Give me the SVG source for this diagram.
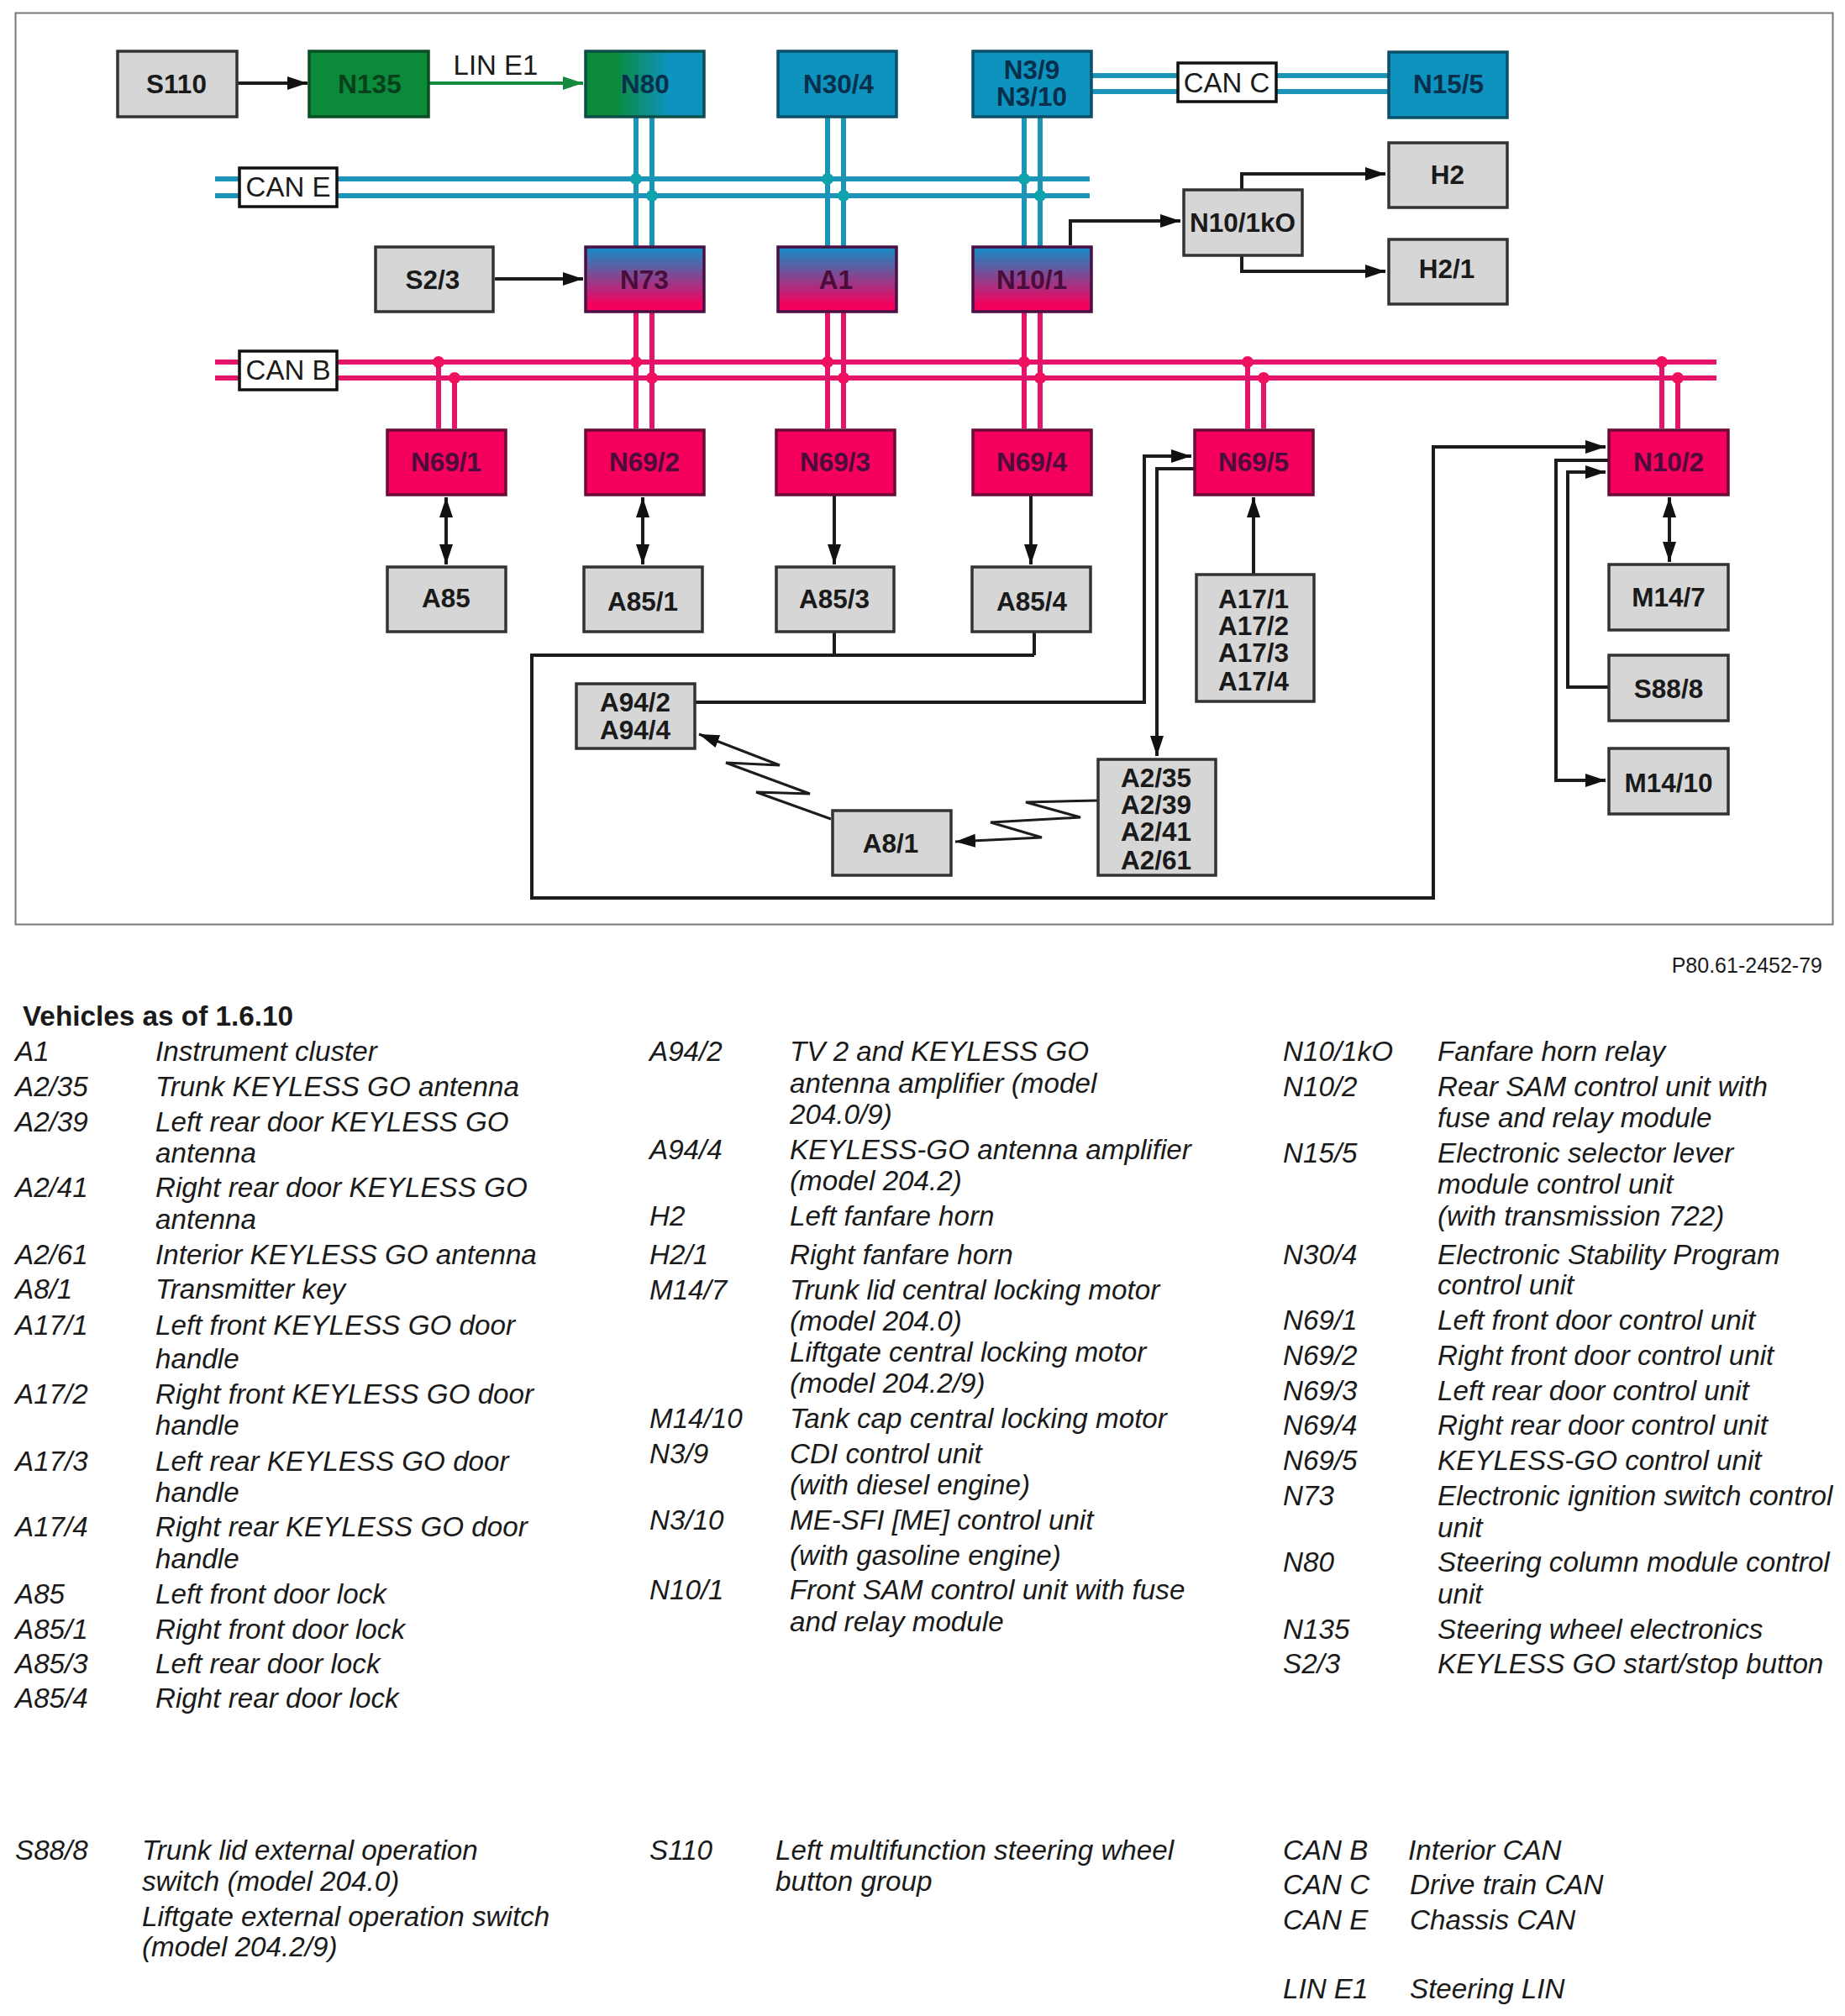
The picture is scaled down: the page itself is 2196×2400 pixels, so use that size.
<svg xmlns="http://www.w3.org/2000/svg" width="2196" height="2400" viewBox="0 0 2196 2400">
<style>
text{font-family:"Liberation Sans",Arial,sans-serif}
.n{stroke-width:3.500}
.g{fill:#d6d6d6;stroke:#333}
.w{fill:#fff;stroke:#111}
.gr{fill:#0b8b39;stroke:#0b4d22}
.bl{fill:#0e93bf;stroke:#0c4f6a}
.mg{fill:#f5005c;stroke:#6a0a36}
.l{font-weight:bold;font-size:31.500px;text-anchor:middle;fill:#1a1a1a}
.lg{fill:#07401b}.lb{fill:#072f4c}.lm{fill:#4a0c3a}
.c{font-size:33px;text-anchor:middle;fill:#1a1a1a}
.t{font-size:33.200px;font-style:italic;fill:#1a1a1a}
.ln{fill:none;stroke:#1c1c1c;stroke-width:4}
.ar{marker-end:url(#a)}
.dbl{marker-end:url(#a);marker-start:url(#a)}
.be{fill:none;stroke:#1b94b8;stroke-width:6}
.bm{fill:none;stroke:#e3146a;stroke-width:6}
.de{fill:#0ea2ab}.dm{fill:#f0105f}
</style>
<defs>
<marker id="a" markerUnits="userSpaceOnUse" markerWidth="26" markerHeight="18" refX="24" refY="9" orient="auto-start-reverse"><path d="M0 1L24 9L0 17Z" fill="#111"/></marker>
<marker id="ag" markerUnits="userSpaceOnUse" markerWidth="26" markerHeight="18" refX="24" refY="9" orient="auto"><path d="M0 1L24 9L0 17Z" fill="#15893f"/></marker>
<linearGradient id="gb" x1="0" x2="1" y1="0" y2="0"><stop offset="0.25" stop-color="#0b8b39"/><stop offset="0.7" stop-color="#0e93bf"/></linearGradient>
<linearGradient id="bm" x1="0" x2="0" y1="0" y2="1"><stop offset="0" stop-color="#0f8fc8"/><stop offset="0.9" stop-color="#f5005c"/></linearGradient>
</defs>
<rect x="18.500" y="15.500" width="2163" height="1085" fill="#fff" stroke="#777" stroke-width="2"/>
<g id="connectors">
<path class="be" d="M256 213H1297M256 233H1297M1300 90H1653M1300 109H1653M757 140V293M776 140V293M985 140V293M1004 140V293M1219 140V293M1238 140V293"/>
<path class="bm" d="M256 431H2043M256 450H2043M757 372V510M776 372V510M985 372V510M1004 372V510M1219 372V510M1238 372V510M522 431V510M541 450V510M1485 431V510M1504 450V510M1978 431V510M1997 450V510"/>
<g class="de"><circle cx="757" cy="213" r="7"/><circle cx="776" cy="233" r="7"/><circle cx="985" cy="213" r="7"/><circle cx="1004" cy="233" r="7"/><circle cx="1219" cy="213" r="7"/><circle cx="1238" cy="233" r="7"/></g>
<g class="dm"><circle cx="522" cy="431" r="7"/><circle cx="541" cy="450" r="7"/><circle cx="757" cy="431" r="7"/><circle cx="776" cy="450" r="7"/><circle cx="985" cy="431" r="7"/><circle cx="1004" cy="450" r="7"/><circle cx="1219" cy="431" r="7"/><circle cx="1238" cy="450" r="7"/><circle cx="1485" cy="431" r="7"/><circle cx="1504" cy="450" r="7"/><circle cx="1978" cy="431" r="7"/><circle cx="1997" cy="450" r="7"/></g>
<path class="ln ar" d="M282 99H366"/>
<path d="M511 99H694" fill="none" stroke="#15893f" stroke-width="4" marker-end="url(#ag)"/>
<path class="ln ar" d="M589 332H694"/>
<path class="ln ar" d="M1274 292V263H1405"/>
<path class="ln ar" d="M1478 225V207H1649"/>
<path class="ln ar" d="M1478 305V323H1649"/>
<path class="ln dbl" d="M531 592V672"/>
<path class="ln dbl" d="M765 592V672"/>
<path class="ln ar" d="M993 589V672"/>
<path class="ln ar" d="M1227 589V672"/>
<path class="ln ar" d="M1492 683V592"/>
<path class="ln dbl" d="M1987 592V669"/>
<path class="ln" d="M993 753V780M1231 753V780"/>
<path class="ln ar" d="M1231 780H633V1069H1706V532H1911"/>
<path class="ln ar" d="M828 836H1362V543H1418"/>
<path class="ln ar" d="M1421 558H1377V900"/>
<path class="ln ar" d="M1914 548H1852V929H1911"/>
<path class="ln ar" d="M1914 818H1866V562H1911"/>
<path class="ln ar" style="stroke-width:3" d="M989 975L900 943L964 945L864 908L928 911L832 874"/>
<path class="ln ar" style="stroke-width:3" d="M1306 953L1221 955L1286 973L1179 979L1240 997L1137 1002"/>
</g>
<g id="S110"><rect class="n g" x="140" y="61" width="142" height="78"/><text class="l" x="210" y="111">S110</text></g>
<g id="N135"><rect class="n gr" x="368" y="61" width="142" height="78"/><text class="l lg" x="440" y="111">N135</text></g>
<g id="N80"><rect class="n" fill="url(#gb)" stroke="#0c4f4a" x="697" y="61" width="141" height="78"/><text class="l lb" x="768" y="111">N80</text></g>
<g id="N30-4"><rect class="n bl" x="926" y="61" width="141" height="78"/><text class="l lb" x="998" y="111">N30/4</text></g>
<g id="N3-9"><rect class="n bl" x="1158" y="61" width="141" height="78"/><text class="l lb" x="1228" y="94">N3/9</text><text class="l lb" x="1228" y="126">N3/10</text></g>
<g id="CAN-C"><rect class="n w" x="1402" y="75" width="117" height="46"/><text class="c" x="1460" y="110">CAN C</text></g>
<g id="N15-5"><rect class="n bl" x="1653" y="62" width="141" height="78"/><text class="l lb" x="1724" y="111">N15/5</text></g>
<g id="CAN-E"><rect class="n w" x="285" y="200" width="116" height="46"/><text class="c" x="343" y="234">CAN E</text></g>
<g id="H2"><rect class="n g" x="1653" y="170" width="141" height="77"/><text class="l" x="1723" y="219">H2</text></g>
<g id="N10-1kO"><rect class="n g" x="1409" y="226" width="141" height="78"/><text class="l" x="1479" y="276">N10/1kO</text></g>
<g id="H2-1"><rect class="n g" x="1653" y="285" width="141" height="77"/><text class="l" x="1722" y="331">H2/1</text></g>
<g id="S2-3"><rect class="n g" x="447" y="294" width="140" height="77"/><text class="l" x="515" y="344">S2/3</text></g>
<g id="N73"><rect class="n" fill="url(#bm)" stroke="#4a1045" x="697" y="294" width="141" height="77"/><text class="l lm" x="767" y="344">N73</text></g>
<g id="A1"><rect class="n" fill="url(#bm)" stroke="#4a1045" x="926" y="294" width="141" height="77"/><text class="l lm" x="995" y="344">A1</text></g>
<g id="N10-1"><rect class="n" fill="url(#bm)" stroke="#4a1045" x="1158" y="294" width="141" height="77"/><text class="l lm" x="1228" y="344">N10/1</text></g>
<g id="CAN-B"><rect class="n w" x="285" y="418" width="116" height="46"/><text class="c" x="343" y="452">CAN B</text></g>
<g id="N69-1"><rect class="n mg" x="461" y="512" width="141" height="77"/><text class="l lm" x="531" y="561">N69/1</text></g>
<g id="N69-2"><rect class="n mg" x="697" y="512" width="141" height="77"/><text class="l lm" x="767" y="561">N69/2</text></g>
<g id="N69-3"><rect class="n mg" x="924" y="512" width="141" height="77"/><text class="l lm" x="994" y="561">N69/3</text></g>
<g id="N69-4"><rect class="n mg" x="1158" y="512" width="141" height="77"/><text class="l lm" x="1228" y="561">N69/4</text></g>
<g id="N69-5"><rect class="n mg" x="1422" y="512" width="141" height="77"/><text class="l lm" x="1492" y="561">N69/5</text></g>
<g id="N10-2"><rect class="n mg" x="1915" y="512" width="142" height="77"/><text class="l lm" x="1986" y="561">N10/2</text></g>
<g id="A85"><rect class="n g" x="461" y="675" width="141" height="77"/><text class="l" x="531" y="723">A85</text></g>
<g id="A85-1"><rect class="n g" x="695" y="675" width="141" height="77"/><text class="l" x="765" y="727">A85/1</text></g>
<g id="A85-3"><rect class="n g" x="924" y="675" width="140" height="77"/><text class="l" x="993" y="724">A85/3</text></g>
<g id="A85-4"><rect class="n g" x="1157" y="675" width="141" height="77"/><text class="l" x="1228" y="727">A85/4</text></g>
<g id="A17"><rect class="n g" x="1424" y="684" width="140" height="151"/><text class="l" x="1492" y="724">A17/1</text><text class="l" x="1492" y="756">A17/2</text><text class="l" x="1492" y="788">A17/3</text><text class="l" x="1492" y="822">A17/4</text></g>
<g id="M14-7"><rect class="n g" x="1915" y="672" width="142" height="78"/><text class="l" x="1986" y="722">M14/7</text></g>
<g id="S88-8"><rect class="n g" x="1915" y="780" width="142" height="78"/><text class="l" x="1986" y="831">S88/8</text></g>
<g id="M14-10"><rect class="n g" x="1915" y="891" width="142" height="78"/><text class="l" x="1986" y="943">M14/10</text></g>
<g id="A94"><rect class="n g" x="686" y="814" width="141" height="77"/><text class="l" x="756" y="847">A94/2</text><text class="l" x="756" y="880">A94/4</text></g>
<g id="A8-1"><rect class="n g" x="991" y="965" width="141" height="77"/><text class="l" x="1060" y="1015">A8/1</text></g>
<g id="A2"><rect class="n g" x="1307" y="904" width="140" height="138"/><text class="l" x="1376" y="937">A2/35</text><text class="l" x="1376" y="969">A2/39</text><text class="l" x="1376" y="1001">A2/41</text><text class="l" x="1376" y="1035">A2/61</text></g>
<text x="590" y="89" font-size="33" text-anchor="middle" fill="#1a1a1a">LIN E1</text>
<g id="legend">
<text x="2169" y="1158" font-size="25" text-anchor="end" fill="#1a1a1a">P80.61-2452-79</text>
<text x="27" y="1221" font-size="33.300" font-weight="bold" fill="#1a1a1a">Vehicles as of 1.6.10</text>
<g>
<text class="t" x="18" y="1263">A1</text><text class="t" x="185" y="1263">Instrument cluster</text>
<text class="t" x="18" y="1305">A2/35</text><text class="t" x="185" y="1305">Trunk KEYLESS GO antenna</text>
<text class="t" x="18" y="1347">A2/39</text><text class="t" x="185" y="1347">Left rear door KEYLESS GO</text><text class="t" x="185" y="1384">antenna</text>
<text class="t" x="18" y="1425">A2/41</text><text class="t" x="185" y="1425">Right rear door KEYLESS GO</text><text class="t" x="185" y="1463">antenna</text>
<text class="t" x="18" y="1505">A2/61</text><text class="t" x="185" y="1505">Interior KEYLESS GO antenna</text>
<text class="t" x="18" y="1546">A8/1</text><text class="t" x="185" y="1546">Transmitter key</text>
<text class="t" x="18" y="1589">A17/1</text><text class="t" x="185" y="1589">Left front KEYLESS GO door</text><text class="t" x="185" y="1629">handle</text>
<text class="t" x="18" y="1671">A17/2</text><text class="t" x="185" y="1671">Right front KEYLESS GO door</text><text class="t" x="185" y="1708">handle</text>
<text class="t" x="18" y="1751">A17/3</text><text class="t" x="185" y="1751">Left rear KEYLESS GO door</text><text class="t" x="185" y="1788">handle</text>
<text class="t" x="18" y="1829">A17/4</text><text class="t" x="185" y="1829">Right rear KEYLESS GO door</text><text class="t" x="185" y="1867">handle</text>
<text class="t" x="18" y="1909">A85</text><text class="t" x="185" y="1909">Left front door lock</text>
<text class="t" x="18" y="1951">A85/1</text><text class="t" x="185" y="1951">Right front door lock</text>
<text class="t" x="18" y="1992">A85/3</text><text class="t" x="185" y="1992">Left rear door lock</text>
<text class="t" x="18" y="2033">A85/4</text><text class="t" x="185" y="2033">Right rear door lock</text>
<text class="t" x="773" y="1263">A94/2</text><text class="t" x="940" y="1263">TV 2 and KEYLESS GO</text><text class="t" x="940" y="1301">antenna amplifier (model</text><text class="t" x="940" y="1338">204.0/9)</text>
<text class="t" x="773" y="1380">A94/4</text><text class="t" x="940" y="1380">KEYLESS-GO antenna amplifier</text><text class="t" x="940" y="1417">(model 204.2)</text>
<text class="t" x="773" y="1459">H2</text><text class="t" x="940" y="1459">Left fanfare horn</text>
<text class="t" x="773" y="1505">H2/1</text><text class="t" x="940" y="1505">Right fanfare horn</text>
<text class="t" x="773" y="1547">M14/7</text><text class="t" x="940" y="1547">Trunk lid central locking motor</text><text class="t" x="940" y="1584">(model 204.0)</text><text class="t" x="940" y="1621">Liftgate central locking motor</text><text class="t" x="940" y="1658">(model 204.2/9)</text>
<text class="t" x="773" y="1700">M14/10</text><text class="t" x="940" y="1700">Tank cap central locking motor</text>
<text class="t" x="773" y="1742">N3/9</text><text class="t" x="940" y="1742">CDI control unit</text><text class="t" x="940" y="1779">(with diesel engine)</text>
<text class="t" x="773" y="1821">N3/10</text><text class="t" x="940" y="1821">ME-SFI [ME] control unit</text><text class="t" x="940" y="1863">(with gasoline engine)</text>
<text class="t" x="773" y="1904">N10/1</text><text class="t" x="940" y="1904">Front SAM control unit with fuse</text><text class="t" x="940" y="1942">and relay module</text>
<text class="t" x="1527" y="1263">N10/1kO</text><text class="t" x="1711" y="1263">Fanfare horn relay</text>
<text class="t" x="1527" y="1305">N10/2</text><text class="t" x="1711" y="1305">Rear SAM control unit with</text><text class="t" x="1711" y="1342">fuse and relay module</text>
<text class="t" x="1527" y="1384">N15/5</text><text class="t" x="1711" y="1384">Electronic selector lever</text><text class="t" x="1711" y="1421">module control unit</text><text class="t" x="1711" y="1459">(with transmission 722)</text>
<text class="t" x="1527" y="1505">N30/4</text><text class="t" x="1711" y="1505">Electronic Stability Program</text><text class="t" x="1711" y="1541">control unit</text>
<text class="t" x="1527" y="1583">N69/1</text><text class="t" x="1711" y="1583">Left front door control unit</text>
<text class="t" x="1527" y="1625">N69/2</text><text class="t" x="1711" y="1625">Right front door control unit</text>
<text class="t" x="1527" y="1667">N69/3</text><text class="t" x="1711" y="1667">Left rear door control unit</text>
<text class="t" x="1527" y="1708">N69/4</text><text class="t" x="1711" y="1708">Right rear door control unit</text>
<text class="t" x="1527" y="1750">N69/5</text><text class="t" x="1711" y="1750">KEYLESS-GO control unit</text>
<text class="t" x="1527" y="1792">N73</text><text class="t" x="1711" y="1792">Electronic ignition switch control</text><text class="t" x="1711" y="1830">unit</text>
<text class="t" x="1527" y="1871">N80</text><text class="t" x="1711" y="1871">Steering column module control</text><text class="t" x="1711" y="1909">unit</text>
<text class="t" x="1527" y="1951">N135</text><text class="t" x="1711" y="1951">Steering wheel electronics</text>
<text class="t" x="1527" y="1992">S2/3</text><text class="t" x="1711" y="1992">KEYLESS GO start/stop button</text>
<text class="t" x="18" y="2214">S88/8</text><text class="t" x="169" y="2214">Trunk lid external operation</text><text class="t" x="169" y="2251">switch (model 204.0)</text><text class="t" x="169" y="2293">Liftgate external operation switch</text><text class="t" x="169" y="2329">(model 204.2/9)</text>
<text class="t" x="773" y="2214">S110</text><text class="t" x="923" y="2214">Left multifunction steering wheel</text><text class="t" x="923" y="2251">button group</text>
<text class="t" x="1527" y="2214">CAN B</text><text class="t" x="1676" y="2214">Interior CAN</text>
<text class="t" x="1527" y="2255">CAN C</text><text class="t" x="1678" y="2255">Drive train CAN</text>
<text class="t" x="1527" y="2297">CAN E</text><text class="t" x="1678" y="2297">Chassis CAN</text>
<text class="t" x="1527" y="2379">LIN E1</text><text class="t" x="1678" y="2379">Steering LIN</text>
</g>
</g>
</svg>
